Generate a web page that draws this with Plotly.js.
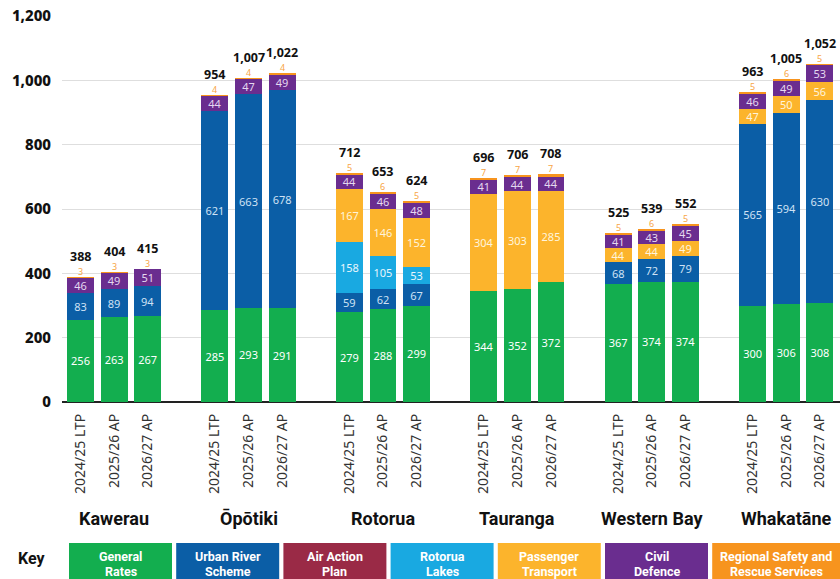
<!DOCTYPE html>
<html>
<head>
<meta charset="utf-8">
<script src="https://cdn.plot.ly/plotly-3.0.1.min.js"></script>
<style>html,body{margin:0;padding:0;background:#fff;}#chart{width:840px;height:579px;}</style>
</head>
<body>
<div id="chart"></div>
<script>
// ---- Data ----
const councils = ['Kawerau', 'Ōpōtiki', 'Rotorua', 'Tauranga', 'Western Bay', 'Whakatāne'];
const periods = ['2024/25 LTP', '2025/26 AP', '2026/27 AP'];

const generalRates   = [256, 263, 267, 285, 293, 291, 279, 288, 299, 344, 352, 372, 367, 374, 374, 300, 306, 308];
const urbanRiver     = [83, 89, 94, 621, 663, 678, 59, 62, 67, 0, 0, 0, 68, 72, 79, 565, 594, 630];
const airAction      = [0, 0, 0, 0, 0, 0, 0, 0, 0, 0, 0, 0, 0, 0, 0, 0, 0, 0];
const rotoruaLakes   = [0, 0, 0, 0, 0, 0, 158, 105, 53, 0, 0, 0, 0, 0, 0, 0, 0, 0];
const passenger      = [0, 0, 0, 0, 0, 0, 167, 146, 152, 304, 303, 285, 44, 44, 49, 47, 50, 56];
const civilDefence   = [46, 49, 51, 44, 47, 49, 44, 46, 48, 41, 44, 44, 41, 43, 45, 46, 49, 53];
const regionalSafety = [3, 3, 3, 4, 4, 4, 5, 6, 5, 7, 7, 7, 5, 6, 5, 5, 6, 5];

const seriesNames = ['General Rates', 'Urban River Scheme', 'Air Action Plan', 'Rotorua Lakes', 'Passenger Transport', 'Civil Defence', 'Regional Safety and Rescue Services'];
const legendLine1 = ['General', 'Urban River', 'Air Action', 'Rotorua', 'Passenger', 'Civil', 'Regional Safety and'];
const legendLine2 = ['Rates', 'Scheme', 'Plan', 'Lakes', 'Transport', 'Defence', 'Rescue Services'];

// ---- Styles ----
const colors = ['#13AE4F', '#0B5EA6', '#9A2A46', '#19A9E1', '#FCB42C', '#6A2D8F', '#F7941E'];
const insideTextColors = ['#ffffff', '#cfe2f5', '#ffffff', '#e8f6fd', '#fff4dc', '#e4d8f0', '#F7941E'];
const seriesValues = [generalRates, urbanRiver, airAction, rotoruaLakes, passenger, civilDefence, regionalSafety];

const xs = [], tickText = [];
generalRates.forEach((_, i) => {
  const g = Math.floor(i / 3), j = i % 3;
  xs.push(g * 4 + j);
  tickText.push(periods[j]);
});

const totals = xs.map((_, i) => seriesValues.reduce((s, arr) => s + arr[i], 0));

const condensed = 'Roboto, Liberation Sans Narrow, sans-serif';
const mainFont = 'Noto Sans, Open Sans, sans-serif';

const traces = seriesValues.map((vals, k) => {
  const isTop = k === seriesValues.length - 1;
  return {
    type: 'bar',
    name: seriesNames[k],
    x: xs,
    y: vals.map(v => v === 0 ? null : v),
    width: 0.8,
    marker: {color: colors[k], line: {width: 0}},
    text: vals.map(v => v ? String(v) : ''),
    textposition: isTop ? 'none' : 'inside',
    insidetextanchor: 'middle',
    textangle: 0,
    textfont: {family: mainFont, size: 11, color: insideTextColors[k]},
    hoverinfo: 'skip',
    showlegend: false
  };
});

const annotations = [];
xs.forEach((x, i) => {
  // small Regional Safety value just above the bar
  annotations.push({
    x: x, y: totals[i], xref: 'x', yref: 'y',
    text: String(regionalSafety[i]),
    showarrow: false, xanchor: 'center', yanchor: 'bottom', yshift: -2, borderpad: 0,
    font: {family: mainFont, size: 9, color: '#F7A545'}
  });
  // total
  annotations.push({
    x: x, y: totals[i], xref: 'x', yref: 'y',
    text: '<b>' + totals[i].toLocaleString('en-US') + '</b>',
    showarrow: false, xanchor: 'center', yanchor: 'bottom', yshift: 11, borderpad: 0,
    font: {family: mainFont, size: 12.5, color: '#111'}
  });
});
councils.forEach((c, g) => {
  annotations.push({
    x: g * 4 + 1, y: -0.303, xref: 'x', yref: 'paper',
    xanchor: 'center', yanchor: 'middle',
    text: '<b>' + c + '</b>', showarrow: false,
    font: {family: condensed, size: 18, color: '#111'}
  });
});

// legend key built from shapes + annotations (paper coords)
const plotL = 62, plotW = 778, plotB = 402, plotH = 386;
const px2x = p => (p - plotL) / plotW;
const px2y = p => (plotB - p) / plotH;
const shapes = [];
annotations.push({
  x: px2x(32), y: px2y(558), xref: 'paper', yref: 'paper',
  xanchor: 'center', yanchor: 'middle',
  text: '<b>Key</b>', showarrow: false,
  font: {family: condensed, size: 16, color: '#111'}
});
seriesNames.forEach((n, k) => {
  const left = 69 + k * 107.2;
  const right = k === seriesNames.length - 1 ? 845 : left + 103;
  shapes.push({
    type: 'rect', xref: 'paper', yref: 'paper',
    x0: px2x(left), x1: px2x(right), y0: px2y(543), y1: px2y(585),
    fillcolor: colors[k], line: {width: 0}, layer: 'below'
  });
  const cx = px2x((left + Math.min(right, 840)) / 2);
  [[legendLine1[k], 556], [legendLine2[k], 571]].forEach(([t, py]) => {
    annotations.push({
      x: cx, y: px2y(py), xref: 'paper', yref: 'paper',
      xanchor: 'center', yanchor: 'middle',
      text: '<b>' + t + '</b>', showarrow: false,
      font: {family: condensed, size: 12.5, color: '#ffffff'}
    });
  });
});

const layout = {
  width: 840, height: 579,
  margin: {l: 62, r: 0, t: 16, b: 177},
  paper_bgcolor: '#ffffff', plot_bgcolor: '#ffffff',
  barmode: 'stack',
  uniformtext: {mode: 'show', minsize: 11},
  showlegend: false,
  xaxis: {
    range: [-0.55, 22.6],
    tickvals: xs, ticktext: tickText,
    tickangle: -90,
    tickfont: {family: mainFont, size: 14, color: '#333'},
    ticklabelstandoff: 8,
    ticks: '', showgrid: false, zeroline: false, showline: false,
    fixedrange: true
  },
  yaxis: {
    range: [0, 1200],
    tickvals: [0, 200, 400, 600, 800, 1000, 1200],
    ticktext: ['0', '200', '400', '600', '800', '1,000', '1,200'],
    tickfont: {family: mainFont, size: 15, color: '#111', weight: 800},
    ticklabelstandoff: 10,
    showgrid: true, gridcolor: '#dedede', gridwidth: 1,
    zeroline: true, zerolinecolor: '#222', zerolinewidth: 2.5,
    showline: false, ticks: '',
    fixedrange: true
  },
  annotations: annotations,
  shapes: shapes
};

Plotly.newPlot('chart', traces, layout, {staticPlot: true, displayModeBar: false});
</script>
</body>
</html>
